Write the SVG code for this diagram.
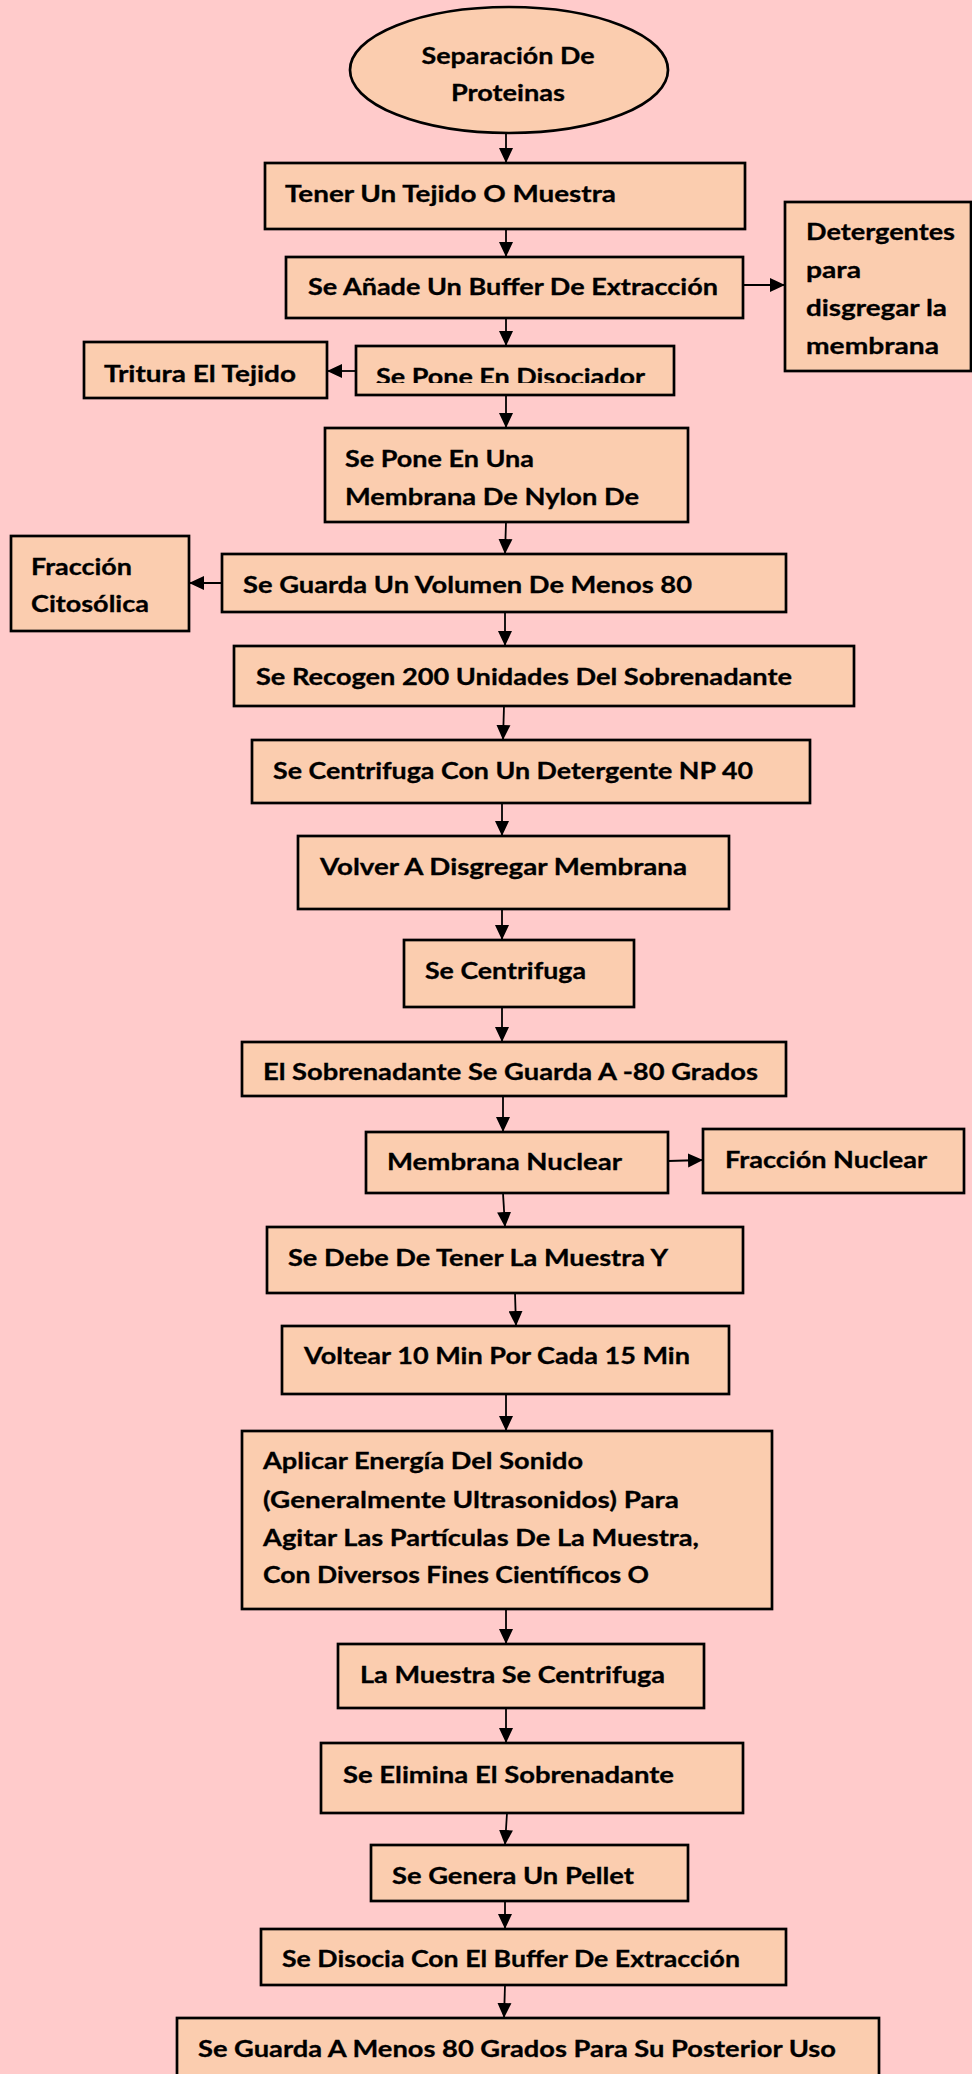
<svg xmlns="http://www.w3.org/2000/svg" width="972" height="2074" viewBox="0 0 972 2074">
<style>
.bx{fill:#FBCDAF;stroke:#000;stroke-width:2.7}
.t{font-family:Lato,"Open Sans","Liberation Sans",sans-serif;font-weight:700;font-size:22.5px;fill:#000;stroke:#000;stroke-width:0.3}
.c{fill:none;stroke:#000;stroke-width:1.8}
</style>
<defs>
<marker id="ah" markerUnits="userSpaceOnUse" markerWidth="16" markerHeight="16" refX="15" refY="7.5" orient="auto"><path d="M0,0.5 L15,7.5 L0,14.5 z" fill="#000"/></marker>
<clipPath id="clipPone"><rect x="356" y="346" width="318" height="37"/></clipPath>
</defs>
<rect x="0" y="0" width="972" height="2074" fill="#FFCBCB"/>
<g id="connectors">
<line class="c" x1="506" y1="133" x2="506" y2="163" marker-end="url(#ah)"/>
<line class="c" x1="506" y1="229" x2="506" y2="257" marker-end="url(#ah)"/>
<line class="c" x1="743" y1="285" x2="785" y2="285" marker-end="url(#ah)"/>
<line class="c" x1="506" y1="318" x2="506" y2="346" marker-end="url(#ah)"/>
<line class="c" x1="356" y1="371" x2="327" y2="371" marker-end="url(#ah)"/>
<line class="c" x1="506" y1="395" x2="506" y2="428" marker-end="url(#ah)"/>
<line class="c" x1="506" y1="522" x2="505" y2="554" marker-end="url(#ah)"/>
<line class="c" x1="222" y1="583" x2="189" y2="583" marker-end="url(#ah)"/>
<line class="c" x1="505" y1="612" x2="505" y2="646" marker-end="url(#ah)"/>
<line class="c" x1="504" y1="706" x2="503" y2="740" marker-end="url(#ah)"/>
<line class="c" x1="502" y1="803" x2="502" y2="836" marker-end="url(#ah)"/>
<line class="c" x1="502" y1="909" x2="502" y2="940" marker-end="url(#ah)"/>
<line class="c" x1="502" y1="1007" x2="502" y2="1042" marker-end="url(#ah)"/>
<line class="c" x1="503" y1="1096" x2="503" y2="1132" marker-end="url(#ah)"/>
<line class="c" x1="668" y1="1161" x2="703" y2="1160" marker-end="url(#ah)"/>
<line class="c" x1="503" y1="1193" x2="505" y2="1227" marker-end="url(#ah)"/>
<line class="c" x1="515" y1="1293" x2="516" y2="1326" marker-end="url(#ah)"/>
<line class="c" x1="506" y1="1394" x2="506" y2="1431" marker-end="url(#ah)"/>
<line class="c" x1="506" y1="1609" x2="506" y2="1644" marker-end="url(#ah)"/>
<line class="c" x1="506" y1="1708" x2="506" y2="1743" marker-end="url(#ah)"/>
<line class="c" x1="507" y1="1813" x2="505" y2="1845" marker-end="url(#ah)"/>
<line class="c" x1="505" y1="1901" x2="505" y2="1929" marker-end="url(#ah)"/>
<line class="c" x1="505" y1="1985" x2="504" y2="2018" marker-end="url(#ah)"/>
</g>
<g id="n-inicio"><ellipse class="bx" cx="509" cy="70" rx="159" ry="63"/>
<text class="t" x="508" y="64" text-anchor="middle" textLength="173" lengthAdjust="spacingAndGlyphs">Separación De</text>
<text class="t" x="508" y="101" text-anchor="middle" textLength="114" lengthAdjust="spacingAndGlyphs">Proteinas</text></g>
<g id="n-tener"><rect class="bx" x="265" y="163" width="480" height="66"/>
<text class="t" x="285" y="202" textLength="331" lengthAdjust="spacingAndGlyphs">Tener Un Tejido O Muestra</text></g>
<g id="n-anade"><rect class="bx" x="286" y="257" width="457" height="61"/>
<text class="t" x="308" y="295" textLength="410" lengthAdjust="spacingAndGlyphs">Se Añade Un Buffer De Extracción</text></g>
<g id="n-detergentes"><rect class="bx" x="785" y="202" width="186" height="169"/>
<text class="t" x="806" y="240" textLength="149" lengthAdjust="spacingAndGlyphs">Detergentes</text>
<text class="t" x="806" y="278" textLength="55" lengthAdjust="spacingAndGlyphs">para</text>
<text class="t" x="806" y="316" textLength="141" lengthAdjust="spacingAndGlyphs">disgregar la</text>
<text class="t" x="806" y="354" textLength="133" lengthAdjust="spacingAndGlyphs">membrana</text></g>
<g id="n-tritura"><rect class="bx" x="84" y="342" width="243" height="56"/>
<text class="t" x="104" y="382" textLength="192" lengthAdjust="spacingAndGlyphs">Tritura El Tejido</text></g>
<g id="n-disociador"><rect class="bx" x="356" y="346" width="318" height="49"/>
<text class="t" x="376" y="385" clip-path="url(#clipPone)" textLength="269" lengthAdjust="spacingAndGlyphs">Se Pone En Disociador</text></g>
<g id="n-nylon"><rect class="bx" x="325" y="428" width="363" height="94"/>
<text class="t" x="345" y="467" textLength="189" lengthAdjust="spacingAndGlyphs">Se Pone En Una</text>
<text class="t" x="345" y="505" textLength="294" lengthAdjust="spacingAndGlyphs">Membrana De Nylon De</text></g>
<g id="n-volumen"><rect class="bx" x="222" y="554" width="564" height="58"/>
<text class="t" x="243" y="593" textLength="449" lengthAdjust="spacingAndGlyphs">Se Guarda Un Volumen De Menos 80</text></g>
<g id="n-citosolica"><rect class="bx" x="11" y="536" width="178" height="95"/>
<text class="t" x="31" y="575" textLength="101" lengthAdjust="spacingAndGlyphs">Fracción</text>
<text class="t" x="31" y="612" textLength="118" lengthAdjust="spacingAndGlyphs">Citosólica</text></g>
<g id="n-recogen"><rect class="bx" x="234" y="646" width="620" height="60"/>
<text class="t" x="256" y="685" textLength="536" lengthAdjust="spacingAndGlyphs">Se Recogen 200 Unidades Del Sobrenadante</text></g>
<g id="n-np40"><rect class="bx" x="252" y="740" width="558" height="63"/>
<text class="t" x="273" y="779" textLength="480" lengthAdjust="spacingAndGlyphs">Se Centrifuga Con Un Detergente NP 40</text></g>
<g id="n-volver"><rect class="bx" x="298" y="836" width="431" height="73"/>
<text class="t" x="320" y="875" textLength="367" lengthAdjust="spacingAndGlyphs">Volver A Disgregar Membrana</text></g>
<g id="n-centrifuga"><rect class="bx" x="404" y="940" width="230" height="67"/>
<text class="t" x="425" y="979" textLength="161" lengthAdjust="spacingAndGlyphs">Se Centrifuga</text></g>
<g id="n-sobrenadante80"><rect class="bx" x="242" y="1042" width="544" height="54"/>
<text class="t" x="263" y="1080" textLength="495" lengthAdjust="spacingAndGlyphs">El Sobrenadante Se Guarda A -80 Grados</text></g>
<g id="n-membrana-nuclear"><rect class="bx" x="366" y="1132" width="302" height="61"/>
<text class="t" x="387" y="1170" textLength="235" lengthAdjust="spacingAndGlyphs">Membrana Nuclear</text></g>
<g id="n-fraccion-nuclear"><rect class="bx" x="703" y="1129" width="261" height="64"/>
<text class="t" x="725" y="1168" textLength="202" lengthAdjust="spacingAndGlyphs">Fracción Nuclear</text></g>
<g id="n-debe"><rect class="bx" x="267" y="1227" width="476" height="66"/>
<text class="t" x="288" y="1266" textLength="380" lengthAdjust="spacingAndGlyphs">Se Debe De Tener La Muestra Y</text></g>
<g id="n-voltear"><rect class="bx" x="282" y="1326" width="447" height="68"/>
<text class="t" x="304" y="1364" textLength="386" lengthAdjust="spacingAndGlyphs">Voltear 10 Min Por Cada 15 Min</text></g>
<g id="n-aplicar"><rect class="bx" x="242" y="1431" width="530" height="178"/>
<text class="t" x="263" y="1469" textLength="320" lengthAdjust="spacingAndGlyphs">Aplicar Energía Del Sonido</text>
<text class="t" x="263" y="1508" textLength="416" lengthAdjust="spacingAndGlyphs">(Generalmente Ultrasonidos) Para</text>
<text class="t" x="263" y="1546" textLength="436" lengthAdjust="spacingAndGlyphs">Agitar Las Partículas De La Muestra,</text>
<text class="t" x="263" y="1583" textLength="386" lengthAdjust="spacingAndGlyphs">Con Diversos Fines Científicos O</text></g>
<g id="n-muestra-centrifuga"><rect class="bx" x="338" y="1644" width="366" height="64"/>
<text class="t" x="360" y="1683" textLength="305" lengthAdjust="spacingAndGlyphs">La Muestra Se Centrifuga</text></g>
<g id="n-elimina"><rect class="bx" x="321" y="1743" width="422" height="70"/>
<text class="t" x="343" y="1783" textLength="331" lengthAdjust="spacingAndGlyphs">Se Elimina El Sobrenadante</text></g>
<g id="n-pellet"><rect class="bx" x="371" y="1845" width="317" height="56"/>
<text class="t" x="392" y="1884" textLength="242" lengthAdjust="spacingAndGlyphs">Se Genera Un Pellet</text></g>
<g id="n-disocia"><rect class="bx" x="261" y="1929" width="525" height="56"/>
<text class="t" x="282" y="1967" textLength="458" lengthAdjust="spacingAndGlyphs">Se Disocia Con El Buffer De Extracción</text></g>
<g id="n-guarda-final"><rect class="bx" x="177" y="2018" width="702" height="80"/>
<text class="t" x="198" y="2057" textLength="638" lengthAdjust="spacingAndGlyphs">Se Guarda A Menos 80 Grados Para Su Posterior Uso</text></g>
</svg>
